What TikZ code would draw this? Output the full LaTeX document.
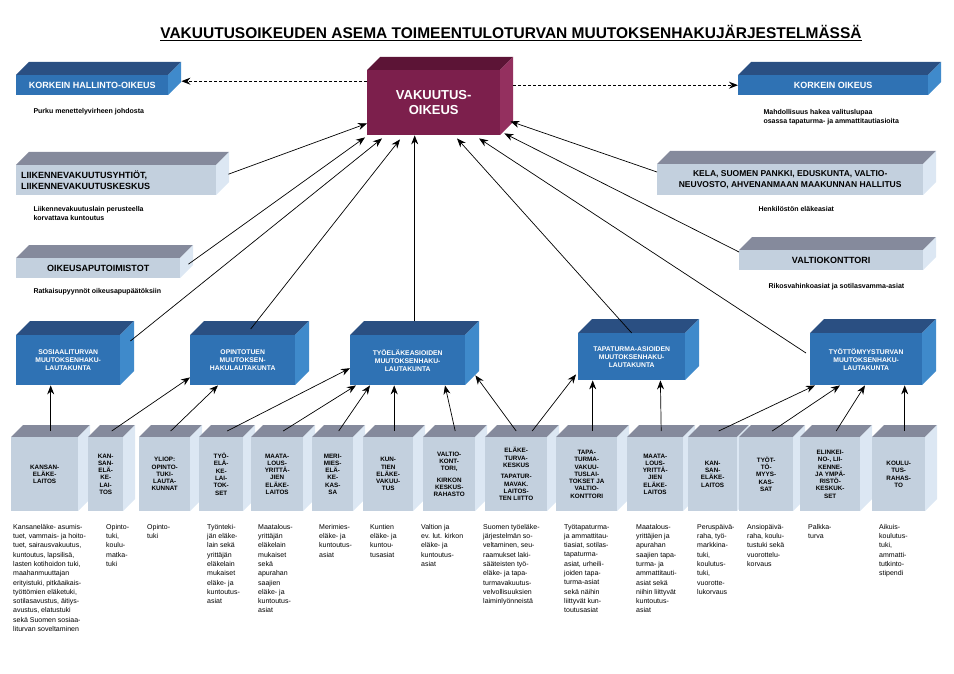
\documentclass[tikz,border=0pt]{standalone}
\usepackage{fontspec}
\setmainfont{Liberation Sans}
\usetikzlibrary{arrows.meta,calc}
\definecolor{bluefront}{HTML}{2F72B4}
\definecolor{bluetop}{HTML}{2A4F82}
\definecolor{blueside}{HTML}{3F8ACB}
\definecolor{greyfront}{HTML}{C3D0DE}
\definecolor{greytop}{HTML}{858A9C}
\definecolor{greyside}{HTML}{DCE7F3}
\definecolor{maroonfront}{HTML}{7C1F4C}
\definecolor{maroontop}{HTML}{5C1436}
\definecolor{maroonside}{HTML}{94305F}
\newcommand{\mybox}[9][]{%
  \fill[#7top] (#3,#4) -- ++(#9,-#9) -- ++(#5,0) -- ++(-#9,#9) -- cycle;
  \fill[#7side] (#3+#5,#4) -- ++(#9,-#9) -- ++(0,#6) -- ++(-#9,#9) -- cycle;
  \node[fill=#7front,anchor=north west,minimum width=#5pt,minimum height=#6pt,inner sep=1pt,align=center,#1] (#2) at (#3,#4) {#8};
}
\tikzset{
  arr/.style={-{Stealth[length=9pt,width=7pt]},line width=0.7pt},
  dasharr/.style={-{Stealth[length=9pt,width=7pt]},line width=1pt,dash pattern=on 3pt off 2pt},
  bt/.style={font=\bfseries\fontsize{6.3}{7.3}\selectfont},
  mt/.style={font=\bfseries\fontsize{6.8}{8}\selectfont,text=white},
  tt/.style={font=\bfseries\fontsize{9}{10.5}\selectfont},
  sub/.style={font=\bfseries\fontsize{7}{9}\selectfont,anchor=north west,align=left},
  desc/.style={font=\fontsize{7}{9.3}\selectfont,anchor=north west,align=left,inner sep=0pt}
}
\begin{document}
\begin{tikzpicture}[x=1pt,y=-1pt]
\useasboundingbox (0,0) rectangle (954,674);
\node[font=\bfseries\fontsize{15.5}{18}\selectfont] (title) at (511,33) {\underline{VAKUUTUSOIKEUDEN ASEMA TOIMEENTULOTURVAN MUUTOKSENHAKUJÄRJESTELMÄSSÄ}};
% top row
\mybox[tt,text=white]{kho}{16}{75}{152}{20}{blue}{KORKEIN HALLINTO-OIKEUS}{13}
\mybox[font=\bfseries\fontsize{13}{15}\selectfont,text=white]{vo}{367}{70}{133}{65}{maroon}{VAKUUTUS-\\OIKEUS}{13}
\mybox[tt,text=white]{ko}{738}{75}{190}{20}{blue}{KORKEIN OIKEUS}{13}
\mybox[tt,align=left,text width=190pt]{liik}{16}{165}{200}{30}{grey}{LIIKENNEVAKUUTUSYHTIÖT,\\LIIKENNEVAKUUTUSKESKUS}{13}
\mybox[tt]{oik}{16}{258}{164}{20}{grey}{OIKEUSAPUTOIMISTOT}{13}
\mybox[font=\bfseries\fontsize{8.5}{10.5}\selectfont]{kela}{657}{164}{266}{31}{grey}{KELA, SUOMEN PANKKI, EDUSKUNTA, VALTIO-\\NEUVOSTO, AHVENANMAAN MAAKUNNAN HALLITUS}{13}
\mybox[tt]{valt}{739}{250}{184}{20}{grey}{VALTIOKONTTORI}{13}
\node[sub] (s1) at (30,105) {Purku menettelyvirheen johdosta};
\node[sub] (s2) at (760,106) {Mahdollisuus hakea valituslupaa\\osassa tapaturma- ja ammattitautiasioita};
\node[sub] (s3) at (30,203) {Liikennevakuutuslain perusteella\\korvattava kuntoutus};
\node[sub] (s4) at (755,203) {Henkilöstön eläkeasiat};
\node[sub] (s5) at (30,285) {Ratkaisupyynnöt oikeusapupäätöksiin};
\node[sub] (s6) at (765,280) {Rikosvahinkoasiat ja sotilasvamma-asiat};
% middle row
\mybox[mt]{sos}{16}{335}{104}{50}{blue}{SOSIAALITURVAN\\MUUTOKSENHAKU-\\LAUTAKUNTA}{14}
\mybox[mt]{opi}{190}{335}{105}{50}{blue}{OPINTOTUEN\\MUUTOKSEN-\\HAKULAUTAKUNTA}{14}
\mybox[mt]{tel}{350}{335}{115}{50}{blue}{TYÖELÄKEASIOIDEN\\MUUTOKSENHAKU-\\LAUTAKUNTA}{14}
\mybox[mt]{tap}{578}{333}{107}{47}{blue}{TAPATURMA-ASIOIDEN\\MUUTOKSENHAKU-\\LAUTAKUNTA}{14}
\mybox[mt]{tto}{810}{333}{112}{52}{blue}{TYÖTTÖMYYSTURVAN\\MUUTOKSENHAKU-\\LAUTAKUNTA}{14}
% bottom row
\mybox[bt]{b1}{11}{437}{67}{74}{grey}{KANSAN-\\ELÄKE-\\LAITOS}{12}
\mybox[bt]{b2}{88}{437}{35}{74}{grey}{KAN-\\SAN-\\ELÄ-\\KE-\\LAI-\\TOS}{12}
\mybox[bt]{b3}{139}{437}{51}{74}{grey}{YLIOP:\\OPINTO-\\TUKI-\\LAUTA-\\KUNNAT}{12}
\mybox[bt]{b4}{199}{437}{44}{74}{grey}{TYÖ-\\ELÄ-\\KE-\\LAI-\\TOK-\\SET}{12}
\mybox[bt]{b5}{251}{437}{52}{74}{grey}{MAATA-\\LOUS-\\YRITTÄ-\\JIEN\\ELÄKE-\\LAITOS}{12}
\mybox[bt]{b6}{312}{437}{41}{74}{grey}{MERI-\\MIES-\\ELÄ-\\KE-\\KAS-\\SA}{12}
\mybox[bt]{b7}{363}{437}{50}{74}{grey}{KUN-\\TIEN\\ELÄKE-\\VAKUU-\\TUS}{12}
\mybox[bt]{b8}{423}{437}{52}{74}{grey}{VALTIO-\\KONT-\\TORI,\\[4pt]KIRKON\\KESKUS-\\RAHASTO}{12}
\mybox[bt]{b9}{485}{437}{62}{74}{grey}{ELÄKE-\\TURVA-\\KESKUS\\[4pt]TAPATUR-\\MAVAK.\\LAITOS-\\TEN LIITTO}{12}
\mybox[bt]{b10}{556}{437}{61}{74}{grey}{TAPA-\\TURMA-\\VAKUU-\\TUSLAI-\\TOKSET JA\\VALTIO-\\KONTTORI}{12}
\mybox[bt]{b11}{627}{437}{56}{74}{grey}{MAATA-\\LOUS-\\YRITTÄ-\\JIEN\\ELÄKE-\\LAITOS}{12}
\mybox[bt]{b12}{688}{437}{49}{74}{grey}{KAN-\\SAN-\\ELÄKE-\\LAITOS}{12}
\mybox[bt]{b13}{739}{437}{54}{74}{grey}{TYÖT-\\TÖ-\\MYYS-\\KAS-\\SAT}{12}
\mybox[bt]{b14}{800}{437}{60}{74}{grey}{ELINKEI-\\NO-, LII-\\KENNE-\\JA YMPÄ-\\RISTÖ-\\KESKUK-\\SET}{12}
\mybox[bt]{b15}{872}{437}{53}{74}{grey}{KOULU-\\TUS-\\RAHAS-\\TO}{12}
% descriptions
\node[desc] (d1) at (13,524) {Kansaneläke- asumis-\\tuet, vammais- ja hoito-\\tuet, sairausvakuutus,\\kuntoutus, lapsilisä,\\lasten kotihoidon tuki,\\maahanmuuttajan\\erityistuki, pitkäaikais-\\työttömien eläketuki,\\sotilasavustus, äitiys-\\avustus, elatustuki\\sekä Suomen sosiaa-\\liturvan soveltaminen};
\node[desc] (d2) at (106,524) {Opinto-\\tuki,\\koulu-\\matka-\\tuki};
\node[desc] (d3) at (147,524) {Opinto-\\tuki};
\node[desc] (d4) at (207,524) {Työnteki-\\jän eläke-\\lain sekä\\yrittäjän\\eläkelain\\mukaiset\\eläke- ja\\kuntoutus-\\asiat};
\node[desc] (d5) at (258,524) {Maatalous-\\yrittäjän\\eläkelain\\mukaiset\\sekä\\apurahan\\saajien\\eläke- ja\\kuntoutus-\\asiat};
\node[desc] (d6) at (319,524) {Merimies-\\eläke- ja\\kuntoutus-\\asiat};
\node[desc] (d7) at (370,524) {Kuntien\\eläke- ja\\kuntou-\\tusasiat};
\node[desc] (d8) at (421,524) {Valtion ja\\ev. lut. kirkon\\eläke- ja\\kuntoutus-\\asiat};
\node[desc] (d9) at (483,524) {Suomen työeläke-\\järjestelmän so-\\veltaminen, seu-\\raamukset laki-\\sääteisten työ-\\eläke- ja tapa-\\turmavakuutus-\\velvollisuuksien\\laiminlyönneistä};
\node[desc] (d10) at (564,524) {Työtapaturma-\\ja ammattitau-\\tiasiat, sotilas-\\tapaturma-\\asiat, urheili-\\joiden tapa-\\turma-asiat\\sekä näihin\\liittyvät kun-\\toutusasiat};
\node[desc] (d11) at (636,524) {Maatalous-\\yrittäjien ja\\apurahan\\saajien tapa-\\turma- ja\\ammattitauti-\\asiat sekä\\niihin liittyvät\\kuntoutus-\\asiat};
\node[desc] (d12) at (697,524) {Peruspäivä-\\raha, työ-\\markkina-\\tuki,\\koulutus-\\tuki,\\vuorotte-\\lukorvaus};
\node[desc] (d13) at (747,524) {Ansiopäivä-\\raha, koulu-\\tustuki sekä\\vuorottelu-\\korvaus};
\node[desc] (d14) at (808,524) {Palkka-\\turva};
\node[desc] (d15) at (879,524) {Aikuis-\\koulutus-\\tuki,\\ammatti-\\tutkinto-\\stipendi};
% dashed arrows
\coordinate (khoe) at ($(kho.east)+(13,-4)$);
\coordinate (vol) at (vo.west |- khoe);
\draw[dasharr] (vol) -- (khoe);
\coordinate (vor) at ($(vo.east |- ko.west)+(13,0)$);
\draw[dasharr] (vor) -- (ko.west);
% arrows to Vakuutusoikeus
\draw[arr] ($(liik.east)+(12,-6)$) -- ($(vo.south west)+(0,-12)$);
\draw[arr] ($(oik.east)+(8,-4)$) -- ($(vo.south west)+(-2,2)$);
\draw[arr] ($(sos.north east)+(10,6)$) -- ($(vo.south west)+(15,3)$);
\draw[arr] ($(opi.north)+(8,-6)$) -- ($(vo.south west)+(33,4)$);
\coordinate (telt) at ($(tel.north)+(7,-14)$);
\draw[arr] (telt) -- (telt |- vo.south);
\draw[arr] (tap.north) -- ($(vo.south west)+(90,3)$);
\draw[arr] ($(tto.north west)+(-4,20)$) -- ($(vo.south west)+(112,3)$);
\draw[arr] ($(kela.north west)+(0,8)$) -- ($(vo.south east)+(10,-14)$);
\draw[arr] ($(valt.north west)+(0,2)$) -- ($(vo.south east)+(4,-2)$);
% bottom arrows
\foreach \i in {1,...,15}{\coordinate (t\i) at ($(b\i.north)+(6,-6)$);}
\draw[arr] (t1) -- (t1 |- sos.south);
\draw[arr] (t2) -- ($(opi.south west)+(0,-8)$);
\draw[arr] (t3) -- ($(opi.south west)+(28,0)$);
\draw[arr] (t4) -- ($(tel.west)+(0,8)$);
\draw[arr] (t5) -- ($(tel.south west)+(6,0)$);
\draw[arr] (t6) -- ($(tel.south west)+(20,0)$);
\draw[arr] (t7) -- (t7 |- tel.south);
\draw[arr] (t8) -- ($(tel.south west)+(95,0)$);
\draw[arr] ($(t9)+(-6,0)$) -- ($(tel.south east)+(10,-10)$);
\draw[arr] ($(t9)+(10,0)$) -- ($(tap.south west)+(-2,-6)$);
\draw[arr] (t10) -- (t10 |- tap.south);
\draw[arr] (t11) -- ($(tap.south east)+(-25,0)$);
\draw[arr] (t12) -- ($(tto.south west)+(5,0)$);
\draw[arr] (t13) -- ($(tto.south west)+(30,0)$);
\draw[arr] (t14) -- ($(tto.south west)+(55,0)$);
\draw[arr] (t15) -- (t15 |- tto.south);
\end{tikzpicture}
\end{document}
